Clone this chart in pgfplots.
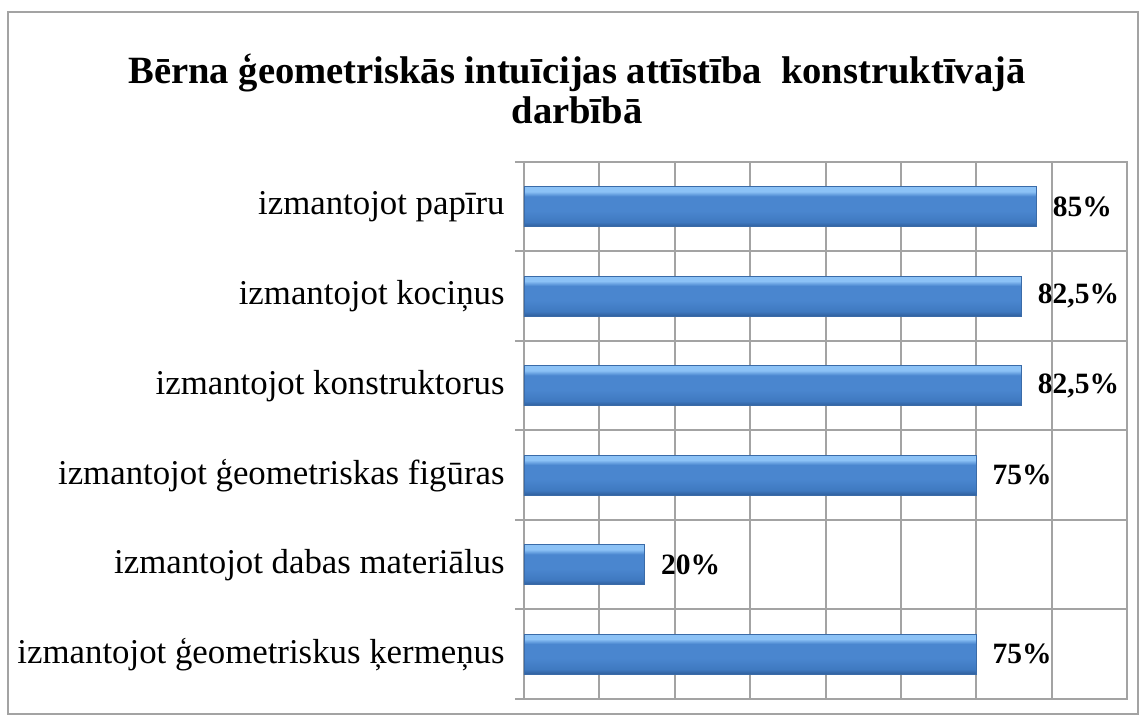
\documentclass[border=0pt]{standalone}
\usepackage{fontspec}
\setmainfont{Liberation Serif}
\usepackage{pgfplots}
\pgfplotsset{compat=1.18}
\definecolor{gridgray}{HTML}{A3A3A3}
\definecolor{barlight}{HTML}{8CC2F6}
\definecolor{barmid}{HTML}{4A86CF}
\definecolor{barmidb}{HTML}{3F79C0}
\definecolor{bardark}{HTML}{2F5E9B}
\definecolor{baredge}{HTML}{3A6BA8}
\pgfdeclareverticalshading{barshade}{100bp}{color(0bp)=(bardark); color(25bp)=(bardark); color(31bp)=(barmidb); color(45bp)=(barmid); color(63bp)=(barmid); color(69bp)=(barlight); color(75bp)=(barlight); color(100bp)=(barlight)}
\begin{document}
\begin{tikzpicture}
\path[use as bounding box] (0,0) rectangle (573pt,360.5pt);
\draw[gridgray, line width=1pt] (4pt,3.5pt) rectangle (569pt,354.5pt);
\node[align=center, font=\fontsize{19.3}{20}\selectfont\bfseries, inner sep=0pt]
  at (288.5pt,316pt) {Bērna ģeometriskās intuīcijas attīstība\ \ konstruktīvajā\\darbībā};
\begin{axis}[
  at={(262pt,11pt)}, anchor=south west,
  scale only axis, width=301.5pt, height=268.5pt,
  xbar, bar width=20pt, bar shift=0pt,
  xmin=0, xmax=100, ymin=-0.5, ymax=5.5,
  enlargelimits=false, clip=false,
  xtick={0,12.5,...,100}, xticklabels={},
  ytick={0,1,2,3,4,5},
  yticklabels={izmantojot ģeometriskus ķermeņus, izmantojot dabas materiālus, izmantojot ģeometriskas figūras, izmantojot konstruktorus, izmantojot kociņus, izmantojot papīru},
  minor ytick={-0.5,0.5,1.5,2.5,3.5,4.5,5.5},
  xmajorgrids, yminorgrids, ymajorgrids=false,
  grid style={gridgray, line width=1pt},
  minor grid style={gridgray, line width=1pt},
  axis line style={gridgray, line width=1pt},
  every tick/.style={gridgray, line width=1pt},
  tick align=outside, tick pos=left,
  major tick length=0pt, minor tick length=4.5pt,
  yticklabel style={font=\fontsize{17.4}{19}\selectfont, inner sep=0pt, xshift=-9.5pt},
  point meta=x,
  nodes near coords={\pgfmathprintnumber[assume math mode=true,use comma]{\pgfplotspointmeta}\%},
  every node near coord/.append style={font=\fontsize{14.75}{16}\selectfont\bfseries, anchor=west, inner sep=0pt, xshift=8pt, black},
  barstyle/.style={draw=baredge, line width=0.4pt, shading=barshade},
]
\addplot[barstyle] coordinates {(75,0)};
\addplot[barstyle] coordinates {(20,1)};
\addplot[barstyle] coordinates {(75,2)};
\addplot[barstyle] coordinates {(82.5,3)};
\addplot[barstyle] coordinates {(82.5,4)};
\addplot[barstyle] coordinates {(85,5)};
\end{axis}
\end{tikzpicture}
\end{document}
